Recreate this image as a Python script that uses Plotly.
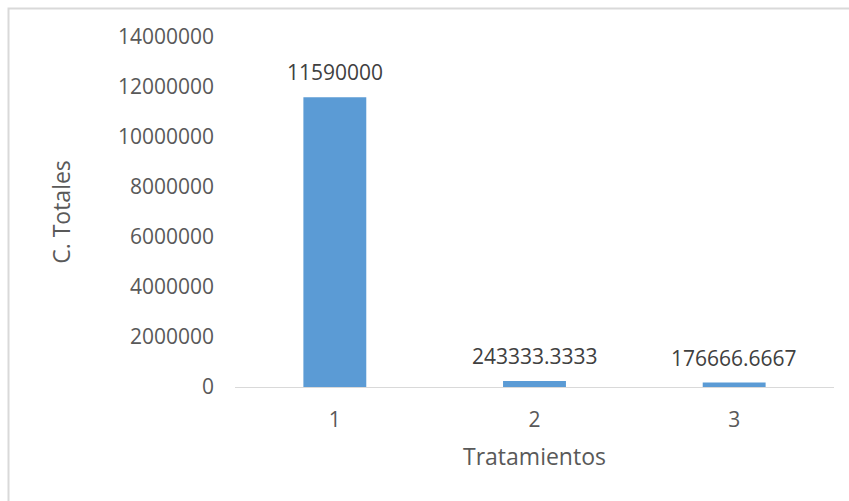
import plotly.graph_objects as go

# Data
tratamientos = ["1", "2", "3"]
c_totales = [11590000, 243333.3333, 176666.6667]
y_ticks = [0, 2000000, 4000000, 6000000, 8000000, 10000000, 12000000, 14000000]

FONT = "Open Sans"
TICK_COLOR = "#595959"
LABEL_COLOR = "#404040"
BAR_COLOR = "#5B9BD5"
LINE_COLOR = "#D9D9D9"

W, H = 849, 501
L, R, T, B = 235, 15, 37, 114
plot_w = W - L - R
plot_h = H - T - B

fig = go.Figure(
    go.Bar(
        x=tratamientos,
        y=c_totales,
        marker=dict(color=BAR_COLOR, line=dict(width=0)),
        hoverinfo="skip",
    )
)

# Value labels above each bar (category axis positions are indices)
for idx, val in enumerate(c_totales):
    fig.add_annotation(
        x=idx, y=val, xref="x", yref="y",
        text=f"{val:.10g}",
        showarrow=False,
        yanchor="bottom",
        yshift=9,
        font=dict(family=FONT, size=21, color=LABEL_COLOR),
    )

# Light frame around the chart area
fig.add_shape(
    type="rect", xref="paper", yref="paper",
    x0=(8.5 - L) / plot_w, x1=(W + 5 - L) / plot_w,
    y0=(T + plot_h - (H + 5)) / plot_h, y1=(T + plot_h - 8.5) / plot_h,
    line=dict(color=LINE_COLOR, width=2),
    fillcolor="rgba(0,0,0,0)",
    layer="below",
)

fig.update_layout(
    width=W, height=H,
    margin=dict(l=L, r=R, t=T, b=B, autoexpand=False),
    paper_bgcolor="white",
    plot_bgcolor="white",
    bargap=0.685,
    showlegend=False,
    font=dict(family=FONT, color=TICK_COLOR),
    xaxis=dict(
        type="category",
        showgrid=False,
        showline=True,
        linecolor=LINE_COLOR,
        linewidth=1.3,
        ticks="",
        ticklabelstandoff=14,
        tickfont=dict(family=FONT, size=21, color=TICK_COLOR),
        title=dict(text="Tratamientos", standoff=16,
                   font=dict(family=FONT, size=23, color=TICK_COLOR)),
        zeroline=False,
        automargin=False,
    ),
    yaxis=dict(
        range=[0, 14000000],
        tickvals=y_ticks,
        ticktext=[str(v) for v in y_ticks],
        showgrid=False,
        showline=False,
        zeroline=False,
        ticks="",
        ticklabelstandoff=20,
        tickfont=dict(family=FONT, size=21, color=TICK_COLOR),
        title=dict(text="C. Totales", standoff=40,
                   font=dict(family=FONT, size=23, color=TICK_COLOR)),
        automargin=False,
    ),
)

fig.write_html("out.html")
